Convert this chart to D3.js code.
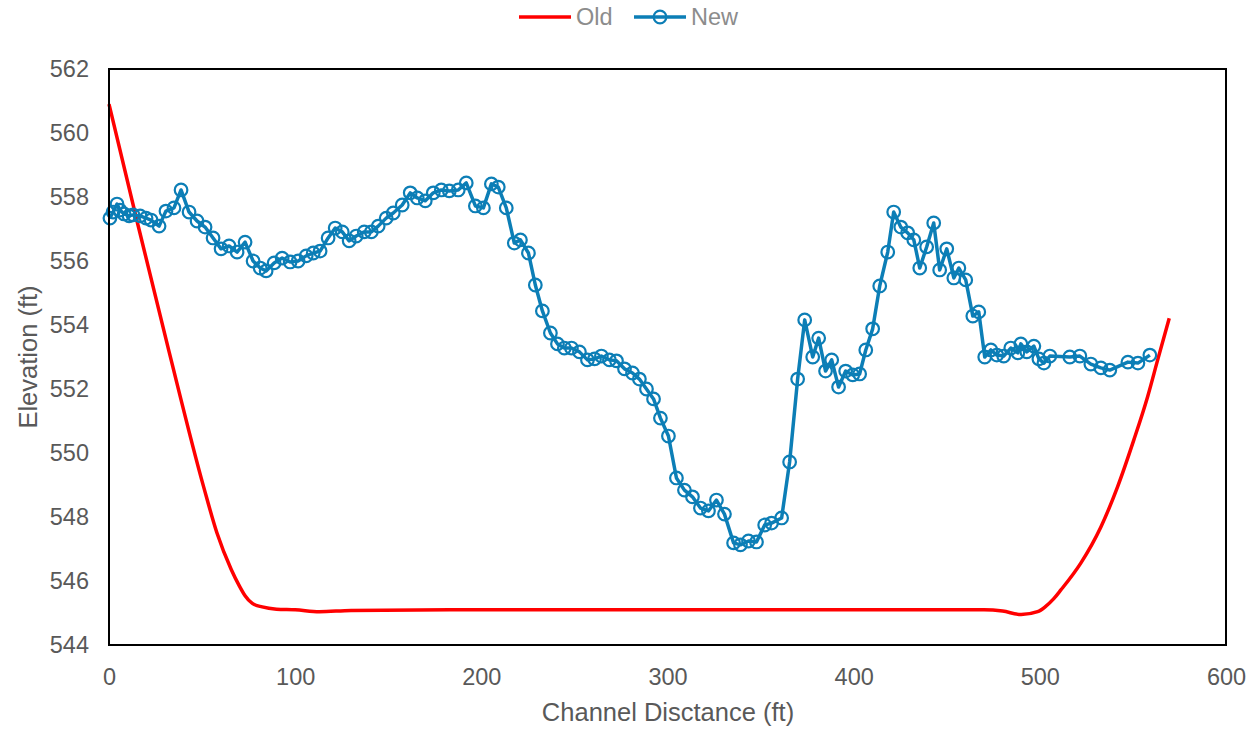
<!DOCTYPE html>
<html><head><meta charset="utf-8">
<script src="https://cdn.jsdelivr.net/npm/d3@7"></script>
<style>body{margin:0;background:#fff;} svg{display:block;font-family:"Liberation Sans",Arial,sans-serif;}</style>
</head><body><svg id="c" width="1253" height="733"></svg>
<script>
const xTicks = [0,100,200,300,400,500,600];
const yTicks = [544,546,548,550,552,554,556,558,560,562];
const oldX = [0,15.5,32.3,50.8,58,65.6,70,73,77,82.3,90,100,113,130,200,300,400,470,480,490,498.8,503,507.5,511.3,522,532.8,541.8,550.5,557.9,563.3,569.5];
const oldY = [560.9,557.14,553.16,548.95,547.5,546.37,545.85,545.55,545.3,545.19,545.12,545.1,545.04,545.08,545.1,545.1,545.1,545.1,545.06,544.95,545.04,545.2,545.45,545.72,546.56,547.69,548.95,550.41,551.76,552.91,554.21];
const newX = [0.5,2.2,4.3,5.9,8.1,10.8,12.9,16.7,19.9,22.6,26.9,30.6,34.9,38.7,43.0,47.3,51.6,55.9,60.2,64.5,68.8,73.1,77.4,81.2,84.4,88.7,93.0,97.3,101.6,105.9,109.7,113.4,117.7,121.5,125.3,129.0,132.8,137.1,140.9,144.6,148.9,152.7,157.5,161.8,165.6,169.9,174.2,178.5,182.8,187.6,191.9,196.8,201.1,205.4,209.1,213.4,217.7,221.0,225.3,229.0,232.8,237.1,240.9,244.6,248.4,252.7,257.0,260.8,264.5,268.8,272.6,276.9,281.2,284.9,288.7,292.5,296.2,300.5,304.8,309.1,313.4,317.7,322.0,326.3,330.6,335.5,339.2,343.5,347.8,352.2,355.9,361.3,365.6,369.9,373.7,378.0,381.2,384.9,388.2,391.9,395.7,399.5,403.2,406.5,410.2,414.0,418.3,421.5,425.3,429.0,432.3,435.5,439.2,443.0,446.2,450.0,453.8,456.5,460.2,464.0,467.2,470.4,473.7,476.9,480.6,484.4,488.2,489.8,493.0,496.8,499.5,502.2,505.4,516.1,521.5,527.4,532.8,537.6,547.3,552.7,559.1];
const newY = [557.34,557.53,557.78,557.59,557.47,557.41,557.44,557.41,557.34,557.28,557.09,557.56,557.66,558.22,557.53,557.25,557.06,556.72,556.38,556.47,556.28,556.59,556.0,555.78,555.69,555.94,556.09,555.97,556.0,556.16,556.25,556.31,556.72,557.03,556.91,556.63,556.78,556.91,556.91,557.09,557.34,557.5,557.75,558.13,557.97,557.88,558.13,558.22,558.19,558.22,558.44,557.72,557.66,558.41,558.31,557.66,556.56,556.66,556.25,555.25,554.44,553.75,553.41,553.28,553.28,553.16,552.91,552.94,553.03,552.91,552.88,552.63,552.5,552.31,552.0,551.69,551.09,550.53,549.22,548.84,548.63,548.28,548.19,548.53,548.09,547.19,547.13,547.25,547.22,547.75,547.81,547.97,549.72,552.31,554.16,553.0,553.59,552.56,552.91,552.06,552.56,552.44,552.47,553.22,553.88,555.22,556.28,557.53,557.06,556.88,556.66,555.78,556.44,557.19,555.72,556.38,555.47,555.78,555.41,554.28,554.41,553.0,553.22,553.06,553.03,553.28,553.13,553.41,553.16,553.34,552.94,552.81,553.03,553.0,553.03,552.78,552.66,552.59,552.84,552.81,553.06];

const OLD_C = "#ff0000", NEW_C = "#0c7eb6", TXT = "#595959";
const svg = d3.select("#c");
const m = {l:109, r:1226, t:69, b:645};
const x = d3.scaleLinear().domain([0,600]).range([m.l,m.r]);
const y = d3.scaleLinear().domain([544,562]).range([m.b,m.t]);

const xa = svg.append("g").attr("transform",`translate(0,${m.b})`)
  .call(d3.axisBottom(x).tickValues(xTicks).tickSize(0).tickPadding(23));
xa.select(".domain").remove();
xa.selectAll("text").attr("fill",TXT).style("font-size","23.5px");
const ya = svg.append("g").attr("transform",`translate(${m.l},0)`)
  .call(d3.axisLeft(y).tickValues(yTicks).tickSize(0).tickPadding(20));
ya.select(".domain").remove();
ya.selectAll("text").attr("fill",TXT).style("font-size","23.5px");

const oldData = oldX.map((d,i)=>[d,oldY[i]]);
const newData = newX.map((d,i)=>[d,newY[i]]);

svg.append("path").datum(oldData).attr("fill","none").attr("stroke",OLD_C).attr("stroke-width",3.5)
  .attr("d", d3.line().x(d=>x(d[0])).y(d=>y(d[1])).curve(d3.curveMonotoneX));
svg.append("path").datum(newData).attr("fill","none").attr("stroke",NEW_C).attr("stroke-width",3.5)
  .attr("stroke-linejoin","round")
  .attr("d", d3.line().x(d=>x(d[0])).y(d=>y(d[1])));
svg.append("g").selectAll("circle").data(newData).join("circle")
  .attr("cx",d=>x(d[0])).attr("cy",d=>y(d[1])).attr("r",6.3)
  .attr("fill","none").attr("stroke",NEW_C).attr("stroke-width",2.2);

svg.append("rect").attr("x",m.l).attr("y",m.t).attr("width",m.r-m.l).attr("height",m.b-m.t)
  .attr("fill","none").attr("stroke","#000").attr("stroke-width",2);

svg.append("text").attr("x",668).attr("y",721).attr("text-anchor","middle")
  .attr("fill",TXT).style("font-size","25.5px").text("Channel Disctance (ft)");
svg.append("text").attr("transform",`translate(37,${(m.t+m.b)/2}) rotate(-90)`).attr("text-anchor","middle")
  .attr("fill",TXT).style("font-size","25.5px").text("Elevation (ft)");

const lg = svg.append("g");
lg.append("line").attr("x1",519).attr("x2",571).attr("y1",17).attr("y2",17).attr("stroke",OLD_C).attr("stroke-width",3.5);
lg.append("text").attr("x",576).attr("y",25).attr("fill","#8c8c8c").style("font-size","23.5px").text("Old");
lg.append("line").attr("x1",634).attr("x2",686).attr("y1",17).attr("y2",17).attr("stroke",NEW_C).attr("stroke-width",3.5);
lg.append("circle").attr("cx",660).attr("cy",17).attr("r",6.3).attr("fill","none").attr("stroke",NEW_C).attr("stroke-width",2.2);
lg.append("text").attr("x",691).attr("y",25).attr("fill","#8c8c8c").style("font-size","23.5px").text("New");
</script></body></html>
